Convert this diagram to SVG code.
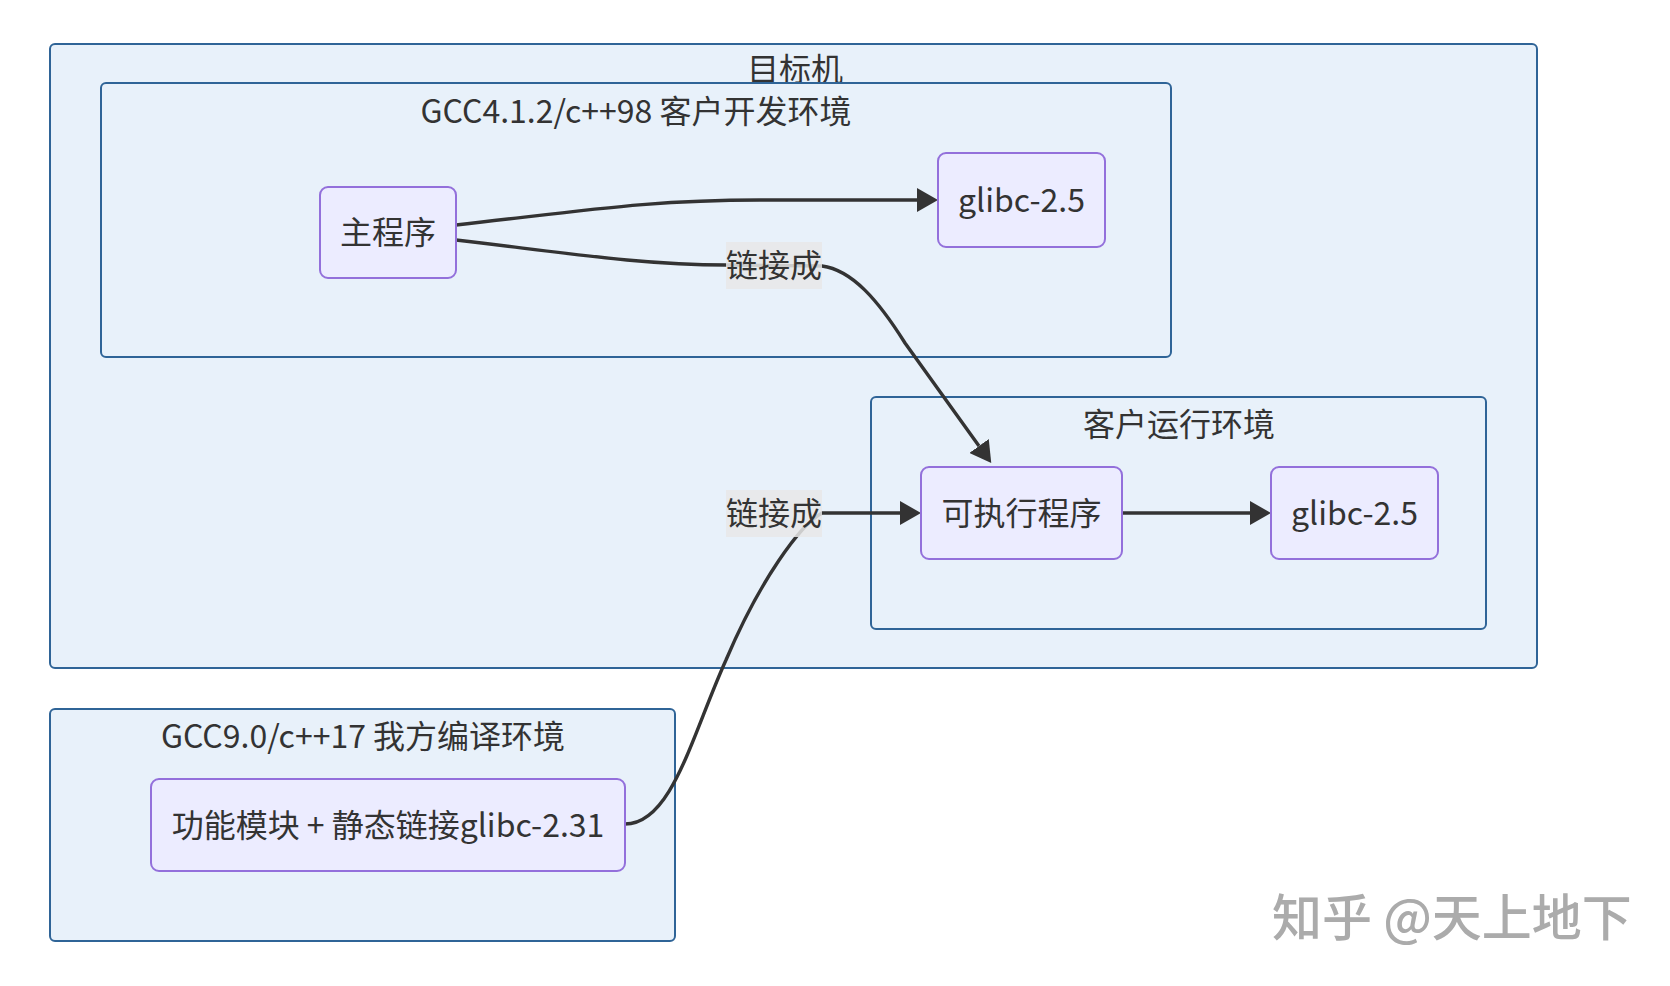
<svg xmlns="http://www.w3.org/2000/svg" width="1670" height="986" viewBox="0 0 1670 986">
<defs>
<style>
.cluster{fill:#e8f1fa;stroke:#2f6497;stroke-width:2}
.node{fill:#ececff;stroke:#9370db;stroke-width:2}
.t{font-family:"Noto Sans CJK SC","Noto Sans",sans-serif;font-size:32px;fill:#333;text-anchor:middle;dominant-baseline:central}
.edge{fill:none;stroke:#333;stroke-width:3.4}
.lbl{fill:#e8e8e8;fill-opacity:0.85}
.wm{font-family:"Noto Sans CJK SC",sans-serif;font-size:50px;fill:#ababab;font-weight:500}
</style>
<marker id="arr" markerUnits="userSpaceOnUse" markerWidth="22" markerHeight="24" refX="0" refY="12" orient="auto" viewBox="0 0 22 24">
<path d="M0,0 L21,12 L0,24 z" fill="#333"/>
</marker>
</defs>
<rect width="1670" height="986" fill="#ffffff"/>
<g id="cluster-target">
<rect class="cluster" x="50" y="44" width="1487" height="624" rx="5"/>
<text class="t" x="795" y="67">目标机</text>
</g>
<g id="cluster-dev">
<rect class="cluster" x="101" y="83" width="1070" height="274" rx="5"/>
<text class="t" x="636" y="109">GCC4.1.2/c++98 客户开发环境</text>
</g>
<g id="cluster-run">
<rect class="cluster" x="871" y="397" width="615" height="232" rx="5"/>
<text class="t" x="1179" y="422">客户运行环境</text>
</g>
<g id="cluster-build">
<rect class="cluster" x="50" y="709" width="625" height="232" rx="5"/>
<text class="t" x="363" y="734">GCC9.0/c++17 我方编译环境</text>
</g>
<g id="edges">
<path class="edge" d="M456,225 C590,210 650,200 760,200 L917,200" marker-end="url(#arr)"/>
<path class="edge" d="M456,240 C560,252 640,265 726,265 L822,266 C852,270 878,300 905,343 L979,446" marker-end="url(#arr)"/>
<path class="edge" d="M625,824 C672,824 692,735 726,660 C760,580 800,525 822,513 L900,513" marker-end="url(#arr)"/>
<path class="edge" d="M1122,513 L1250,513" marker-end="url(#arr)"/>
</g>
<g id="label-1">
<rect class="lbl" x="726" y="242" width="96" height="47"/>
<text class="t" x="774" y="263">链接成</text>
</g>
<g id="label-2">
<rect class="lbl" x="726" y="490" width="96" height="47"/>
<text class="t" x="774" y="511">链接成</text>
</g>
<g id="node-main">
<rect class="node" x="320" y="187" width="136" height="91" rx="8"/>
<text class="t" x="388" y="230">主程序</text>
</g>
<g id="node-glibc-dev">
<rect class="node" x="938" y="153" width="167" height="94" rx="8"/>
<text class="t" x="1021.5" y="198">glibc-2.5</text>
</g>
<g id="node-exe">
<rect class="node" x="921" y="467" width="201" height="92" rx="8"/>
<text class="t" x="1021.5" y="511">可执行程序</text>
</g>
<g id="node-glibc-run">
<rect class="node" x="1271" y="467" width="167" height="92" rx="8"/>
<text class="t" x="1354.5" y="511">glibc-2.5</text>
</g>
<g id="node-module">
<rect class="node" x="151" y="779" width="474" height="92" rx="8"/>
<text class="t" x="388" y="823">功能模块 + 静态链接glibc-2.31</text>
</g>
<text class="wm" x="1272" y="936">知乎 @天上地下</text>
</svg>
